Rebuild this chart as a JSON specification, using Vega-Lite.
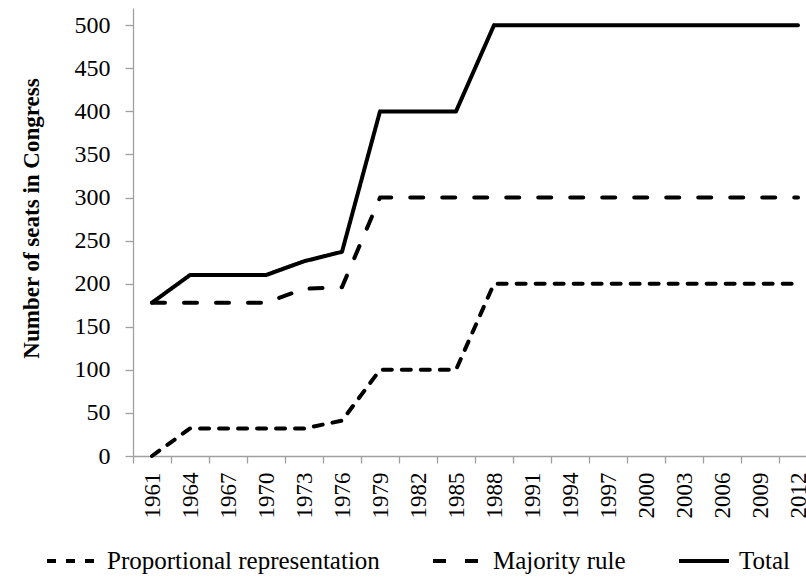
{
  "$schema": "https://vega.github.io/schema/vega-lite/v6.json",
  "autosize": {"type": "none"},
  "width": 673,
  "height": 448,
  "padding": {"left": 133, "top": 8, "right": 0, "bottom": 126},
  "background": "white",
  "config": {
    "font": "Liberation Serif",
    "view": {"stroke": null},
    "axis": {"labelFont": "Liberation Serif", "titleFont": "Liberation Serif", "domainColor": "#a0a0a0", "tickColor": "#a0a0a0", "domainWidth": 1.3, "tickWidth": 1.3, "labelColor": "black", "titleColor": "black", "grid": false},
    "legend": {"labelFont": "Liberation Serif"}
  },
  "data": {"values": [
    {"year": 1961, "series": "Proportional representation", "seats": 0},
    {"year": 1964, "series": "Proportional representation", "seats": 32},
    {"year": 1967, "series": "Proportional representation", "seats": 32},
    {"year": 1970, "series": "Proportional representation", "seats": 32},
    {"year": 1973, "series": "Proportional representation", "seats": 32},
    {"year": 1976, "series": "Proportional representation", "seats": 41},
    {"year": 1979, "series": "Proportional representation", "seats": 100},
    {"year": 1982, "series": "Proportional representation", "seats": 100},
    {"year": 1985, "series": "Proportional representation", "seats": 100},
    {"year": 1988, "series": "Proportional representation", "seats": 200},
    {"year": 1991, "series": "Proportional representation", "seats": 200},
    {"year": 1994, "series": "Proportional representation", "seats": 200},
    {"year": 1997, "series": "Proportional representation", "seats": 200},
    {"year": 2000, "series": "Proportional representation", "seats": 200},
    {"year": 2003, "series": "Proportional representation", "seats": 200},
    {"year": 2006, "series": "Proportional representation", "seats": 200},
    {"year": 2009, "series": "Proportional representation", "seats": 200},
    {"year": 2012, "series": "Proportional representation", "seats": 200},
    {"year": 1961, "series": "Majority rule", "seats": 178},
    {"year": 1964, "series": "Majority rule", "seats": 178},
    {"year": 1967, "series": "Majority rule", "seats": 178},
    {"year": 1970, "series": "Majority rule", "seats": 178},
    {"year": 1973, "series": "Majority rule", "seats": 194},
    {"year": 1976, "series": "Majority rule", "seats": 196},
    {"year": 1979, "series": "Majority rule", "seats": 300},
    {"year": 1982, "series": "Majority rule", "seats": 300},
    {"year": 1985, "series": "Majority rule", "seats": 300},
    {"year": 1988, "series": "Majority rule", "seats": 300},
    {"year": 1991, "series": "Majority rule", "seats": 300},
    {"year": 1994, "series": "Majority rule", "seats": 300},
    {"year": 1997, "series": "Majority rule", "seats": 300},
    {"year": 2000, "series": "Majority rule", "seats": 300},
    {"year": 2003, "series": "Majority rule", "seats": 300},
    {"year": 2006, "series": "Majority rule", "seats": 300},
    {"year": 2009, "series": "Majority rule", "seats": 300},
    {"year": 2012, "series": "Majority rule", "seats": 300},
    {"year": 1961, "series": "Total", "seats": 178},
    {"year": 1964, "series": "Total", "seats": 210},
    {"year": 1967, "series": "Total", "seats": 210},
    {"year": 1970, "series": "Total", "seats": 210},
    {"year": 1973, "series": "Total", "seats": 226},
    {"year": 1976, "series": "Total", "seats": 237},
    {"year": 1979, "series": "Total", "seats": 400},
    {"year": 1982, "series": "Total", "seats": 400},
    {"year": 1985, "series": "Total", "seats": 400},
    {"year": 1988, "series": "Total", "seats": 500},
    {"year": 1991, "series": "Total", "seats": 500},
    {"year": 1994, "series": "Total", "seats": 500},
    {"year": 1997, "series": "Total", "seats": 500},
    {"year": 2000, "series": "Total", "seats": 500},
    {"year": 2003, "series": "Total", "seats": 500},
    {"year": 2006, "series": "Total", "seats": 500},
    {"year": 2009, "series": "Total", "seats": 500},
    {"year": 2012, "series": "Total", "seats": 500}
  ]},
  "mark": {"type": "line", "color": "black", "strokeWidth": 4, "strokeCap": "round", "strokeJoin": "round"},
  "encoding": {
    "x": {
      "field": "year", "type": "ordinal", "bandPosition": 0.5,
      "scale": {"type": "band", "paddingInner": 0, "paddingOuter": 0, "range": [0, 684]},
      "axis": {"title": null, "labelAngle": 270, "labelFontSize": 23, "labelPadding": 9, "tickSize": 7, "tickBand": "extent", "labelAlign": "right", "labelBaseline": "middle"}
    },
    "y": {
      "field": "seats", "type": "quantitative",
      "scale": {"domain": [0, 520], "nice": false},
      "axis": {"title": "Number of seats in Congress", "values": [0, 50, 100, 150, 200, 250, 300, 350, 400, 450, 500], "labelFontSize": 24, "labelPadding": 15, "tickSize": 8, "titleFontSize": 23, "titleFontWeight": "bold", "titleX": -102, "titleY": 210, "titleAlign": "center", "titleBaseline": "middle", "titleAngle": 270}
    },
    "strokeDash": {
      "field": "series", "type": "nominal",
      "scale": {"domain": ["Proportional representation", "Majority rule", "Total"], "range": [[9, 10], [13, 19], [1, 0]]},
      "legend": {"title": null, "orient": "none", "direction": "horizontal", "legendX": -88, "legendY": 526, "labelFontSize": 25, "labelLimit": 0, "labelOffset": 8, "columnPadding": 45, "symbolType": "stroke", "symbolSize": 2500, "symbolStrokeWidth": 4, "symbolStrokeColor": "black", "labelColor": "black"}
    }
  }
}
